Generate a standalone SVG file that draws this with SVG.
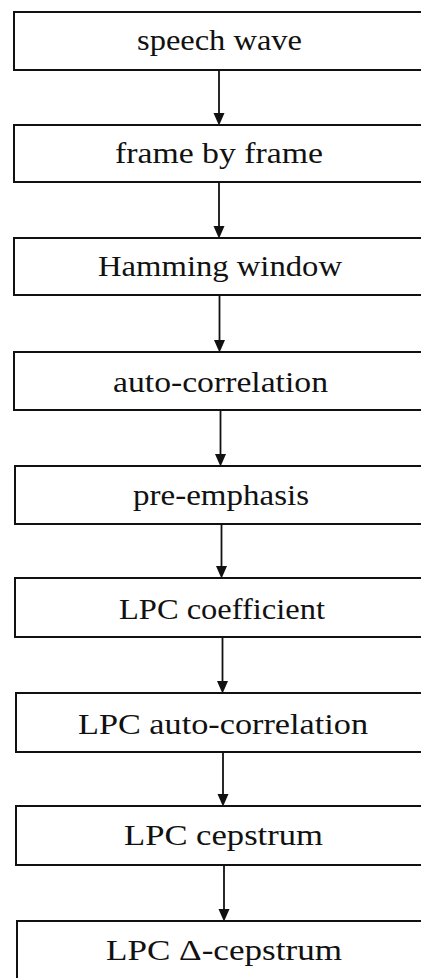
<svg xmlns="http://www.w3.org/2000/svg" width="421" height="978" viewBox="0 0 421 978">
  <style>
    .box rect { fill: #ffffff; stroke: #111111; stroke-width: 2; }
    .box text { font-family: "Liberation Serif", "DejaVu Serif", serif; font-size: 29px; fill: #111111; text-anchor: middle; }
    .conn line { stroke: #111111; stroke-width: 1.8; }
  </style>
  <defs>
    <marker id="arr" markerUnits="userSpaceOnUse" markerWidth="12" markerHeight="14" viewBox="0 0 12 14" refX="6" refY="13" orient="auto-start-reverse">
      <path d="M0,0 L12,0 L6,14 Z" fill="#111111" transform="rotate(0)"/>
    </marker>
  </defs>
  <rect width="421" height="978" fill="#ffffff"/>

  <g id="connectors" class="conn">
    <line x1="219" y1="70" x2="219" y2="113"/>
    <path d="M213.5,113 L224.5,113 L219,125.5 Z" fill="#111"/>
    <line x1="219" y1="182" x2="219" y2="226"/>
    <path d="M213.5,226 L224.5,226 L219,238.5 Z" fill="#111"/>
    <line x1="219.5" y1="295" x2="219.5" y2="340"/>
    <path d="M214,340 L225,340 L219.5,352.5 Z" fill="#111"/>
    <line x1="220.5" y1="410" x2="220.5" y2="454"/>
    <path d="M215,454 L226,454 L220.5,466.5 Z" fill="#111"/>
    <line x1="221.5" y1="524" x2="221.5" y2="566"/>
    <path d="M216,566 L227,566 L221.5,578.5 Z" fill="#111"/>
    <line x1="222.5" y1="637" x2="222.5" y2="681"/>
    <path d="M217,681 L228,681 L222.5,693.5 Z" fill="#111"/>
    <line x1="223" y1="752" x2="223" y2="794"/>
    <path d="M217.5,794 L228.5,794 L223,806.5 Z" fill="#111"/>
    <line x1="224" y1="865" x2="224" y2="909"/>
    <path d="M218.5,909 L229.5,909 L224,921.5 Z" fill="#111"/>
  </g>

  <g id="n1" class="box">
    <rect x="14" y="12" width="420" height="58"/>
    <text x="219.5" y="50" textLength="165" lengthAdjust="spacingAndGlyphs">speech wave</text>
  </g>
  <g id="n2" class="box">
    <rect x="14" y="125" width="420" height="57"/>
    <text x="219" y="163" textLength="208" lengthAdjust="spacingAndGlyphs">frame by frame</text>
  </g>
  <g id="n3" class="box">
    <rect x="14" y="238" width="420" height="57"/>
    <text x="220" y="276" textLength="244" lengthAdjust="spacingAndGlyphs">Hamming window</text>
  </g>
  <g id="n4" class="box">
    <rect x="14" y="352" width="420" height="58"/>
    <text x="220.5" y="392" textLength="215" lengthAdjust="spacingAndGlyphs">auto-correlation</text>
  </g>
  <g id="n5" class="box">
    <rect x="15" y="466" width="420" height="58"/>
    <text x="221" y="505" textLength="176" lengthAdjust="spacingAndGlyphs">pre-emphasis</text>
  </g>
  <g id="n6" class="box">
    <rect x="15" y="578" width="420" height="59"/>
    <text x="222" y="619" textLength="206" lengthAdjust="spacingAndGlyphs">LPC coefficient</text>
  </g>
  <g id="n7" class="box">
    <rect x="16" y="693" width="420" height="59"/>
    <text x="223" y="734" textLength="290" lengthAdjust="spacingAndGlyphs">LPC auto-correlation</text>
  </g>
  <g id="n8" class="box">
    <rect x="16" y="806" width="420" height="59"/>
    <text x="223.5" y="845" textLength="199" lengthAdjust="spacingAndGlyphs">LPC cepstrum</text>
  </g>
  <g id="n9" class="box">
    <rect x="17" y="921" width="420" height="62"/>
    <text x="224" y="960" textLength="236" lengthAdjust="spacingAndGlyphs">LPC Δ-cepstrum</text>
  </g>
</svg>
